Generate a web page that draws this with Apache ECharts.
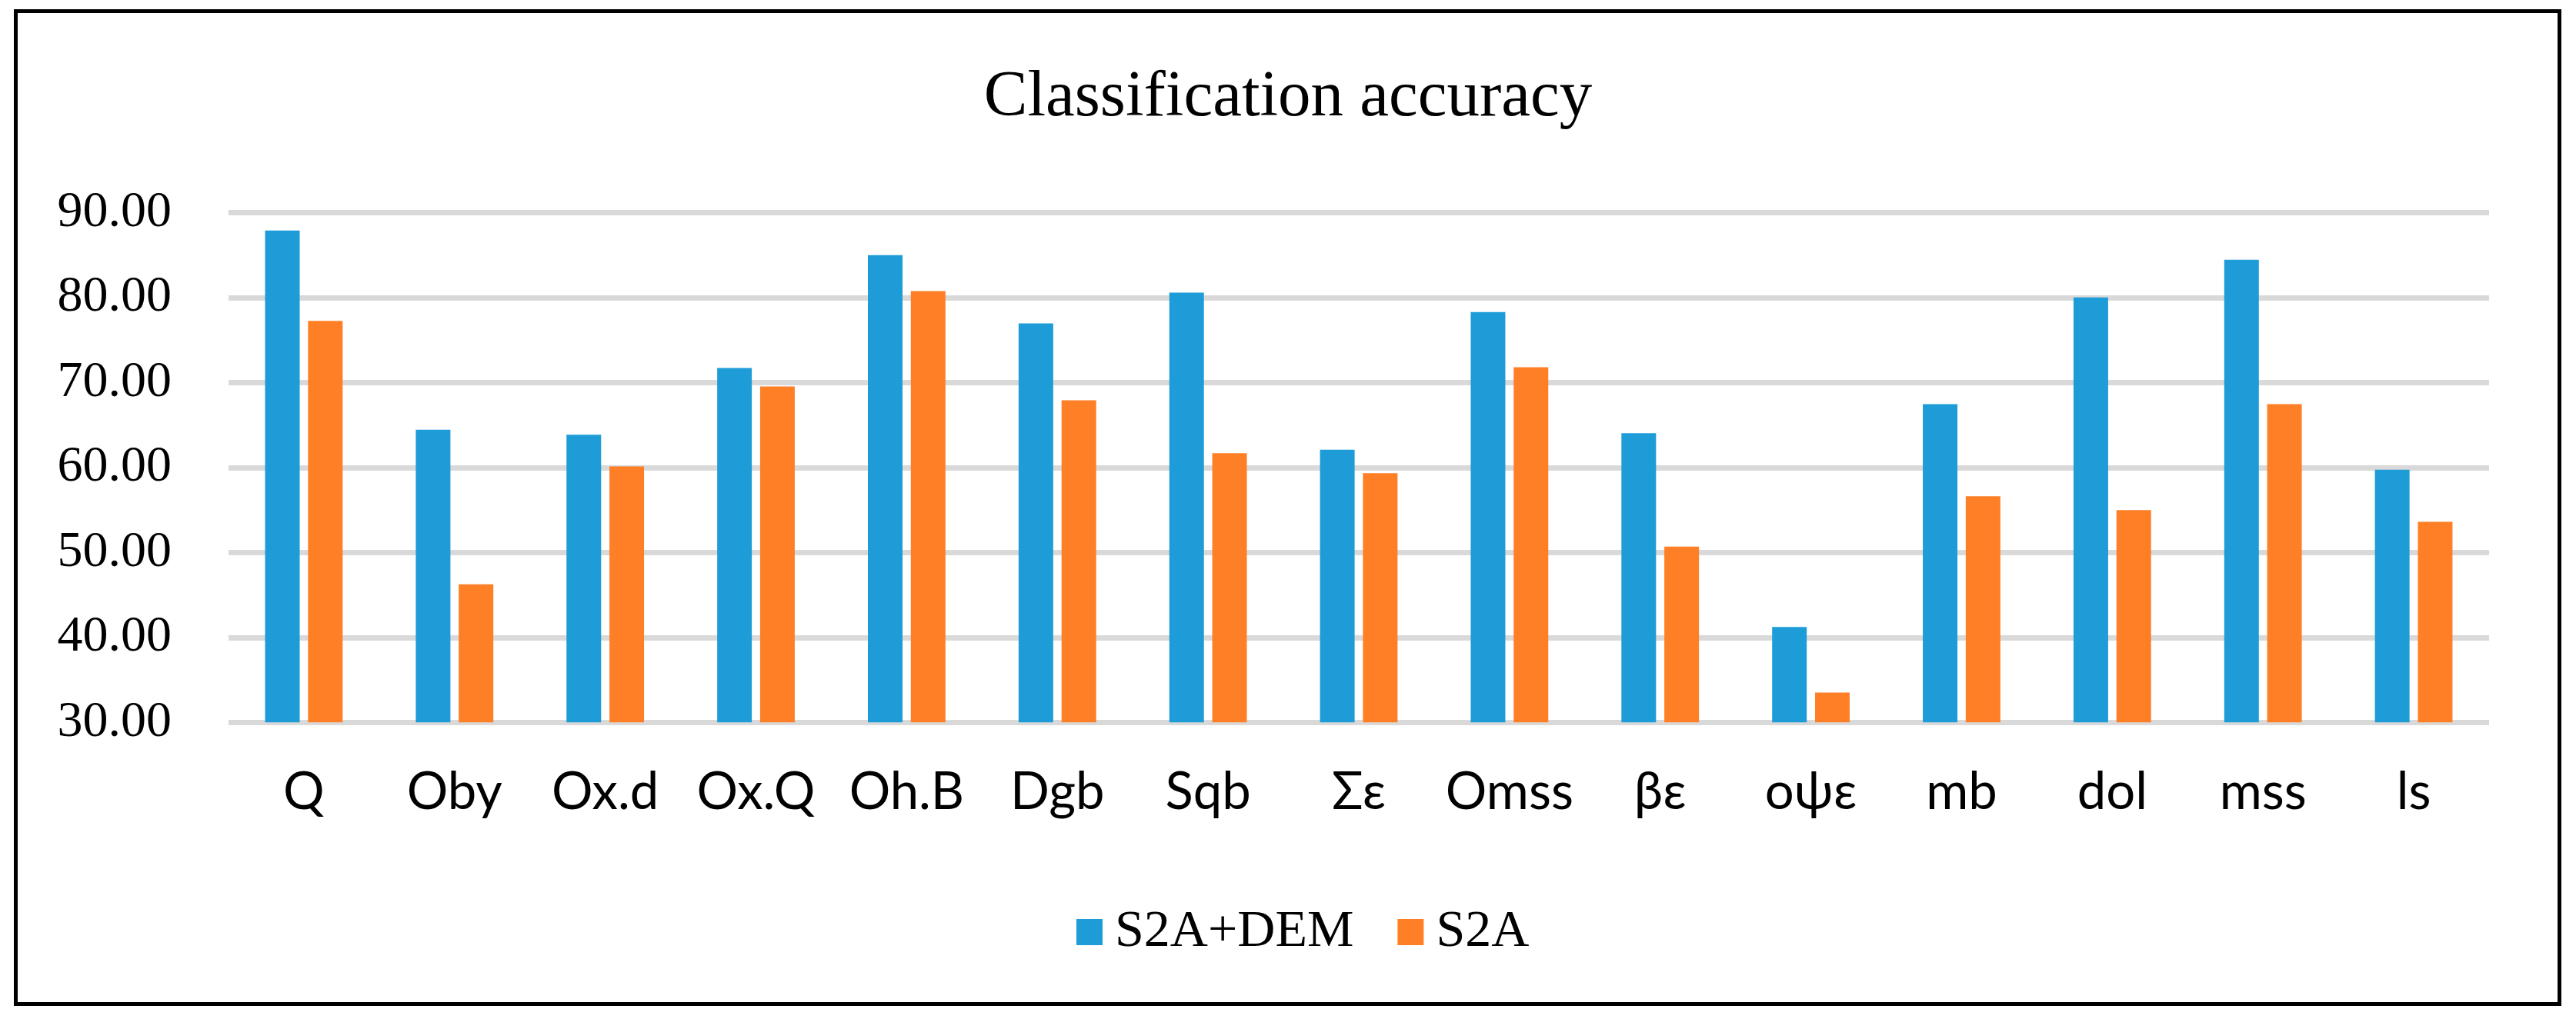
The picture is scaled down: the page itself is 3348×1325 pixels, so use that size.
<!DOCTYPE html>
<html>
<head>
<meta charset="utf-8">
<title>Classification accuracy</title>
<script src="https://cdn.jsdelivr.net/npm/echarts@6.0.0/dist/echarts.min.js"></script>
<style>
	html, body { margin: 0; padding: 0; background: #fff; }
	#chart { width: 3348px; height: 1325px; }
</style>
</head>
<body>
<div id="chart"></div>
<script>
	'use strict';

	// values
	var categories = ['Q', 'Oby', 'Ox.d', 'Ox.Q', 'Oh.B', 'Dgb', 'Sqb', 'Σε', 'Omss', 'βε', 'οψε', 'mb', 'dol', 'mss', 'ls'];
	var seriesNames = ['S2A+DEM', 'S2A'];
	var s2aDem = [87.90, 64.46, 63.86, 71.71, 85.00, 76.97, 80.58, 62.10, 78.31, 64.04, 41.22, 67.46, 80.02, 84.46, 59.75];
	var s2a = [77.25, 46.26, 60.12, 69.54, 80.76, 67.92, 61.69, 59.33, 71.80, 50.70, 33.51, 56.61, 54.99, 67.46, 53.60];
	var yTicks = [30, 40, 50, 60, 70, 80, 90];

	var serif = '"Liberation Serif", "Times New Roman", serif';
	var sans = 'Lato, "Open Sans", "Liberation Sans", sans-serif';

	var chart = echarts.init(document.getElementById('chart'), null, { renderer: 'canvas' });

	var option = {
		animation: false,
		backgroundColor: '#ffffff',
		color: ['#1e9cd8', '#ff7f27'],
		title: {
			text: 'Classification accuracy',
			left: 'center',
			top: 80,
			textStyle: { fontFamily: serif, fontSize: 85, fontWeight: 'normal', color: '#000' }
		},
		legend: {
			data: seriesNames,
			left: 1399,
			top: 1178,
			padding: 0,
			icon: 'rect',
			itemWidth: 34,
			itemHeight: 34,
			itemGap: 57,
			textStyle: { fontFamily: serif, fontSize: 68, color: '#000', padding: [0, 0, 0, 11] }
		},
		grid: {
			left: 297,
			right: 113,
			top: 276.5,
			bottom: 385.7,
			outerBoundsMode: 'none'
		},
		xAxis: {
			type: 'category',
			data: categories,
			axisLine: { show: false },
			axisTick: { show: false },
			axisLabel: { fontFamily: sans, fontSize: 67, color: '#000', margin: 58, interval: 0 }
		},
		yAxis: {
			type: 'value',
			min: yTicks[0],
			max: yTicks[yTicks.length - 1],
			interval: 10,
			axisLine: { show: false },
			axisTick: { show: false },
			splitLine: { show: true, lineStyle: { color: '#d9d9d9', width: 7 } },
			axisLabel: {
				fontFamily: serif, fontSize: 66, color: '#000', margin: 74,
				formatter: function(v) { return v.toFixed(2); }
			}
		},
		series: [
			{ name: seriesNames[0], type: 'bar', data: s2aDem, barWidth: 45, barGap: '24%' },
			{ name: seriesNames[1], type: 'bar', data: s2a, barWidth: 45, barGap: '24%' }
		],
		graphic: [{
			type: 'rect',
			silent: true,
			z: 100,
			shape: { x: 20.5, y: 14.5, width: 3306, height: 1291 },
			style: { fill: null, stroke: '#000', lineWidth: 5 }
		}]
	};

	chart.setOption(option);
</script>
</body>
</html>
